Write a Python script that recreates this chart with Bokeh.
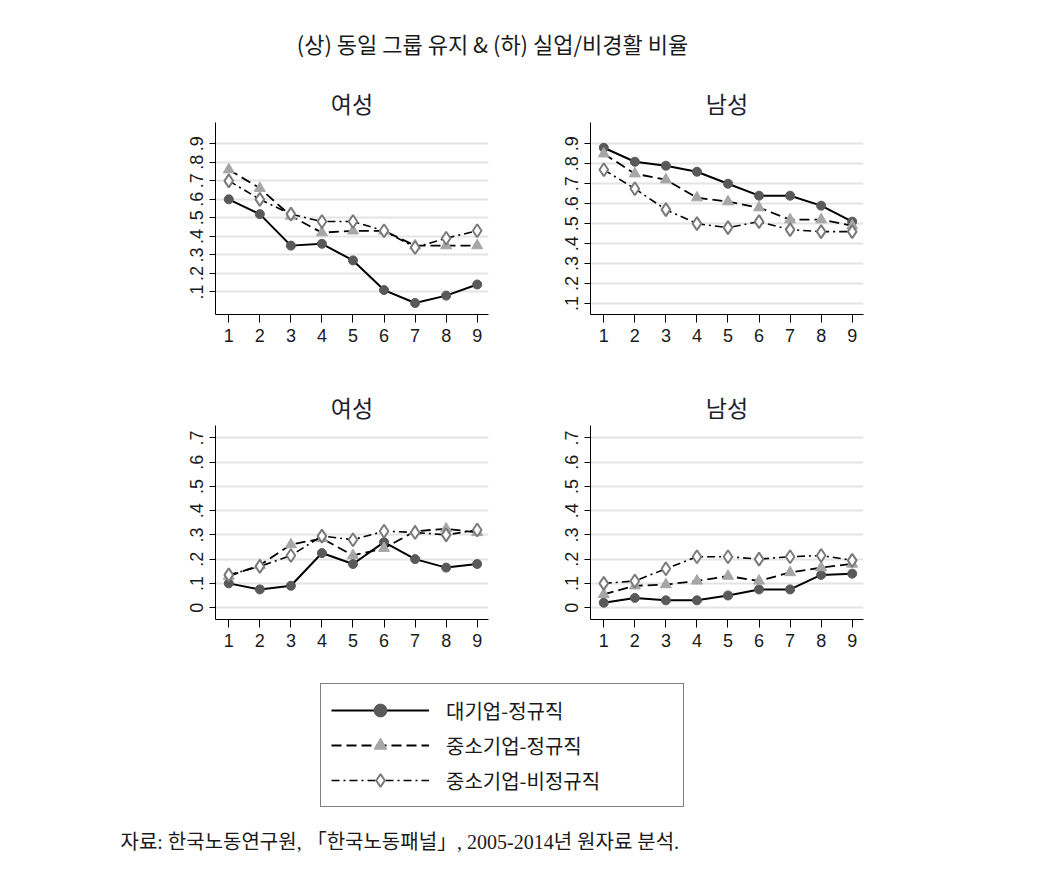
from bokeh.plotting import figure
from bokeh.layouts import column, row
from bokeh.models import Range1d, FixedTicker, CustomJSTickFormatter, Legend, LegendItem
from bokeh.embed import file_html
from bokeh.resources import INLINE

# ---------------- data ----------------
years = [1, 2, 3, 4, 5, 6, 7, 8, 9]
series_labels = ["대기업-정규직", "중소기업-정규직", "중소기업-비정규직"]

# (상) 동일 그룹 유지 - 여성
f_stay_large = [0.60, 0.52, 0.35, 0.36, 0.27, 0.11, 0.04, 0.08, 0.14]
f_stay_sme = [0.76, 0.66, 0.51, 0.42, 0.43, 0.43, 0.35, 0.35, 0.35]
f_stay_nonreg = [0.70, 0.60, 0.52, 0.48, 0.48, 0.43, 0.34, 0.39, 0.43]
# (상) 동일 그룹 유지 - 남성
m_stay_large = [0.88, 0.81, 0.79, 0.76, 0.70, 0.64, 0.64, 0.59, 0.51]
m_stay_sme = [0.85, 0.75, 0.72, 0.63, 0.61, 0.58, 0.52, 0.52, 0.49]
m_stay_nonreg = [0.77, 0.675, 0.57, 0.50, 0.48, 0.51, 0.47, 0.46, 0.46]
# (하) 실업/비경활 비율 - 여성
f_unemp_large = [0.10, 0.075, 0.09, 0.225, 0.18, 0.27, 0.20, 0.165, 0.18]
f_unemp_sme = [0.13, 0.175, 0.26, 0.285, 0.215, 0.245, 0.315, 0.325, 0.31]
f_unemp_nonreg = [0.135, 0.17, 0.215, 0.295, 0.28, 0.315, 0.31, 0.30, 0.32]
# (하) 실업/비경활 비율 - 남성
m_unemp_large = [0.02, 0.04, 0.03, 0.03, 0.05, 0.075, 0.075, 0.135, 0.14]
m_unemp_sme = [0.055, 0.09, 0.095, 0.11, 0.13, 0.11, 0.145, 0.165, 0.18]
m_unemp_nonreg = [0.10, 0.11, 0.16, 0.21, 0.21, 0.20, 0.21, 0.215, 0.195]

top_ticks = [0.1, 0.2, 0.3, 0.4, 0.5, 0.6, 0.7, 0.8, 0.9]
bottom_ticks = [0.0, 0.1, 0.2, 0.3, 0.4, 0.5, 0.6, 0.7]

main_title = "(상) 동일 그룹 유지 & (하) 실업/비경활 비율"
caption = "자료: 한국노동연구원, 「한국노동패널」, 2005-2014년 원자료 분석."

# ---------------- styles ----------------
KFONT = "Noto Sans CJK KR"
NFONT = "Liberation Sans"
TXT = "#1a1a1a"
styles = [
    dict(dash="solid", lw=2.0, marker="circle", size=9, fill="#595959", line="#595959", mlw=1),
    dict(dash="10 5", lw=1.8, marker="triangle", size=11, fill="#a6a6a6", line="#a6a6a6", mlw=1),
    dict(dash="8 4 2 4", lw=1.6, marker="diamond", size=13, fill="white", line="#7a7a7a", mlw=2),
]

fmt = CustomJSTickFormatter(code="""
    if (Math.abs(tick) < 1e-9) { return "0"; }
    return tick.toFixed(1).replace(/^0/, "");
""")


def draw_series(p, ys, st, visible=True):
    lr = p.line(years, ys, line_color="black", line_width=st["lw"], line_dash=st["dash"])
    sr = p.scatter(years, ys, marker=st["marker"], size=st["size"], fill_color=st["fill"],
                   line_color=st["line"], line_width=st["mlw"])
    lr.visible = visible
    sr.visible = visible
    return lr, sr


def panel(title, data, yr, ticks, mbl, mbr, mbt, mbb, fh, standoff):
    p = figure(frame_width=273, frame_height=fh,
               x_range=Range1d(0.572, 9.364), y_range=Range1d(*yr),
               output_backend="svg", toolbar_location=None,
               min_border_left=mbl, min_border_right=mbr,
               min_border_top=mbt, min_border_bottom=mbb)
    p.title.text = title
    p.title.align = "center"
    p.title.text_font = KFONT
    p.title.text_font_size = "23px"
    p.title.text_font_style = "normal"
    p.title.text_color = "#1e1e2e"
    p.title.standoff = standoff
    p.outline_line_color = None
    p.background_fill_color = "white"
    p.border_fill_color = "white"
    p.xgrid.visible = False
    p.ygrid.ticker = FixedTicker(ticks=ticks)
    p.ygrid.grid_line_color = "#e4e4e4"
    p.ygrid.grid_line_width = 2
    p.yaxis.ticker = FixedTicker(ticks=ticks)
    p.xaxis.ticker = FixedTicker(ticks=years)
    p.yaxis.formatter = fmt
    p.yaxis.major_label_orientation = "vertical"
    for ax in (p.xaxis, p.yaxis):
        ax.axis_line_color = "black"
        ax.axis_line_width = 1
        ax.major_tick_line_color = "black"
        ax.major_tick_in = 0
        ax.minor_tick_line_color = None
        ax.major_label_text_font = NFONT
        ax.major_label_text_font_size = "18px"
        ax.major_label_text_color = TXT
    p.xaxis.major_tick_out = 8
    p.yaxis.major_tick_out = 6
    p.xaxis.major_label_standoff = 6
    p.yaxis.major_label_standoff = 6
    for ys, st in zip(data, styles):
        draw_series(p, ys, st)
    return p


top_range = (-0.022, 1.015)
top_range_m = (0.045, 1.0065)
bot_range = (-0.049, 0.751)

tl = panel("여성", [f_stay_large, f_stay_sme, f_stay_nonreg], top_range, top_ticks,
           215, 30, 52, 50, 192, 6)
tr = panel("남성", [m_stay_large, m_stay_sme, m_stay_nonreg], top_range_m, top_ticks,
           72, 20, 52, 50, 192, 6)
bl = panel("여성", [f_unemp_large, f_unemp_sme, f_unemp_nonreg], bot_range, bottom_ticks,
           215, 30, 61, 50, 194, 4)
br = panel("남성", [m_unemp_large, m_unemp_sme, m_unemp_nonreg], bot_range, bottom_ticks,
           72, 20, 61, 50, 194, 4)

# ---------------- header ----------------
hdr = figure(frame_width=984, frame_height=12, output_backend="svg", toolbar_location=None,
             x_axis_type=None, y_axis_type=None, min_border_left=0, min_border_right=0,
             min_border_top=58, min_border_bottom=0)
hdr.outline_line_color = None
hdr.title.text = main_title
hdr.title.align = "center"
hdr.title.text_font = KFONT
hdr.title.text_font_size = "22px"
hdr.title.text_font_style = "normal"
hdr.title.text_color = TXT
hdr.title.standoff = 0

# ---------------- legend ----------------
lg = figure(frame_width=366, frame_height=126, output_backend="svg", toolbar_location=None,
            x_axis_type=None, y_axis_type=None, min_border_left=320, min_border_right=0,
            min_border_top=14, min_border_bottom=3)
lg.outline_line_color = None
items = []
for lab, ys, st in zip(series_labels, [f_stay_large, f_stay_sme, f_stay_nonreg], styles):
    lr, sr = draw_series(lg, ys, st, visible=False)
    items.append(LegendItem(label=lab, renderers=[lr, sr]))
legend = Legend(items=items, location="top_left", margin=0, padding=10, spacing=3,
                glyph_width=98, glyph_height=32, label_height=32, label_width=227,
                label_standoff=17, label_text_font=KFONT, label_text_font_size="20px",
                label_text_color=TXT, border_line_color="black", border_line_width=1,
                background_fill_color="white", background_fill_alpha=1,
                inactive_fill_alpha=0)
lg.add_layout(legend, "center")

# ---------------- caption ----------------
cap = figure(frame_width=800, frame_height=1, output_backend="svg", toolbar_location=None,
             x_axis_type=None, y_axis_type=None, min_border_left=120, min_border_right=0,
             min_border_top=40, min_border_bottom=0)
cap.outline_line_color = None
cap.title.text = caption
cap.title.align = "left"
cap.title.text_font = "Liberation Serif, Noto Sans CJK KR"
cap.title.text_font_size = "20px"
cap.title.text_font_style = "normal"
cap.title.text_color = TXT
cap.title.standoff = 0

layout = column(row(hdr), row(tl, tr), row(bl, br), row(lg), row(cap))
open("out.html", "w").write(file_html(layout, INLINE, title="chart"))
